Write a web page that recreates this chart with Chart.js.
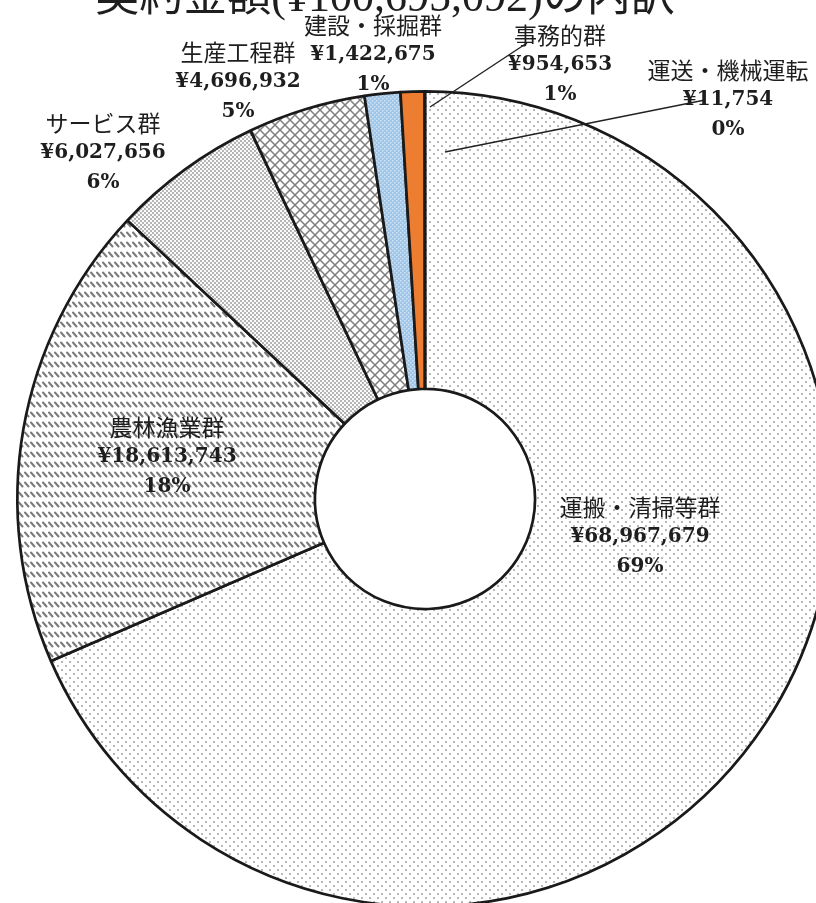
<!DOCTYPE html>
<html><head><meta charset="utf-8">
<script src="https://cdn.jsdelivr.net/npm/chart.js@4"></script>
<style>
html,body{margin:0;padding:0;background:#fff;overflow:hidden;width:816px;height:903px}
#wrap{position:absolute;left:0;top:0;width:850px;height:1000px}
</style></head><body>
<div id="wrap"><canvas id="c" width="850" height="1000"></canvas></div>
<script>
// ---- data ----
const titleText = '契約金額(¥100,695,092)の内訳';
const categories = ['運搬・清掃等群','農林漁業群','サービス群','生産工程群','建設・採掘群','事務的群','運送・機械運転'];
const amounts = [68967679, 18613743, 6027656, 4696932, 1422675, 954653, 11754];
const percentLabels = ['69%','18%','6%','5%','1%','1%','0%'];

// ---- layout (label centres relative to doughnut centre) ----
const labelOffsets = [[215,38],[-258,-42],[-322,-346],[-187,-417],[-52,-444],[135,-434],[303,-399]];
const leaderLines = [[102,-456,5,-392],[280,-399,20,-347]];
const lineH = 30;

const canvas = document.getElementById('c');
const mainCtx = canvas.getContext('2d');
function tile(w,h,bg,draw){
  const c=document.createElement('canvas');c.width=w;c.height=h;
  const x=c.getContext('2d');x.fillStyle=bg;x.fillRect(0,0,w,h);draw(x);
  return mainCtx.createPattern(c,'repeat');
}
const dotsPat = tile(8,8,'#ffffff',x=>{x.fillStyle='#a0a0a0';x.beginPath();x.arc(2,2,1,0,7);x.fill();x.beginPath();x.arc(6,6,1,0,7);x.fill();});
const dashPat = tile(6,10,'#ffffff',x=>{x.strokeStyle='#7a7a7a';x.lineWidth=2;x.lineCap='round';x.beginPath();x.moveTo(1,2.5);x.lineTo(4.5,6.5);x.stroke();});
const finePat = tile(4,4,'#fafafa',x=>{x.fillStyle='#949494';x.beginPath();x.arc(1,1,0.9,0,7);x.fill();x.beginPath();x.arc(3,3,0.9,0,7);x.fill();});
const crossPat = tile(10,10,'#ffffff',x=>{x.strokeStyle='#7e7e7e';x.lineWidth=1.5;x.beginPath();x.moveTo(0,0);x.lineTo(10,10);x.moveTo(10,0);x.lineTo(0,10);x.stroke();});
const bluePat = tile(4,4,'#9fc5e8',x=>{x.fillStyle='#cfe3f5';x.fillRect(0,0,1.5,1.5);x.fillRect(2,2,1.5,1.5);});
const fills = [dotsPat, dashPat, finePat, crossPat, bluePat, '#ed7d31', '#a5a5a5'];

const labelPlugin = {
  id:'labels',
  afterDatasetsDraw(chart){
    const ctx = chart.ctx;
    const a0 = chart.getDatasetMeta(0).data[0];
    const cx = a0.x, cy = a0.y;
    ctx.save();
    ctx.strokeStyle = '#222'; ctx.lineWidth = 1.4;
    leaderLines.forEach(l=>{ctx.beginPath();ctx.moveTo(cx+l[0],cy+l[1]);ctx.lineTo(cx+l[2],cy+l[3]);ctx.stroke();});
    ctx.textAlign='center'; ctx.textBaseline='middle'; ctx.fillStyle='#1e1e1e';
    categories.forEach((name,i)=>{
      const x = cx+labelOffsets[i][0], y = cy+labelOffsets[i][1];
      ctx.font = '23px "Noto Sans CJK JP"';
      ctx.fillText(name, x, y-lineH);
      ctx.font = 'bold 20px "DejaVu Serif"';
      ctx.fillText('¥'+amounts[i].toLocaleString('en-US'), x, y);
      ctx.fillText(percentLabels[i], x, y+lineH);
    });
    ctx.font = '44px "Liberation Serif","Noto Sans CJK JP"';
    ctx.textBaseline = 'alphabetic';
    ctx.fillText(titleText, cx-40, 11);
    ctx.restore();
  }
};

new Chart(canvas, {
  type:'doughnut',
  data:{ labels:categories, datasets:[{ data:amounts, backgroundColor:fills, borderColor:'#1a1a1a', borderWidth:2.7, hoverOffset:0 }]},
  options:{
    responsive:false, devicePixelRatio:1, animation:false, cutout:'27%',
    layout:{padding:{left:16,right:16,top:90,bottom:92}},
    plugins:{legend:{display:false}, tooltip:{enabled:false}, title:{display:false}}
  },
  plugins:[labelPlugin]
});
</script>
</body></html>
